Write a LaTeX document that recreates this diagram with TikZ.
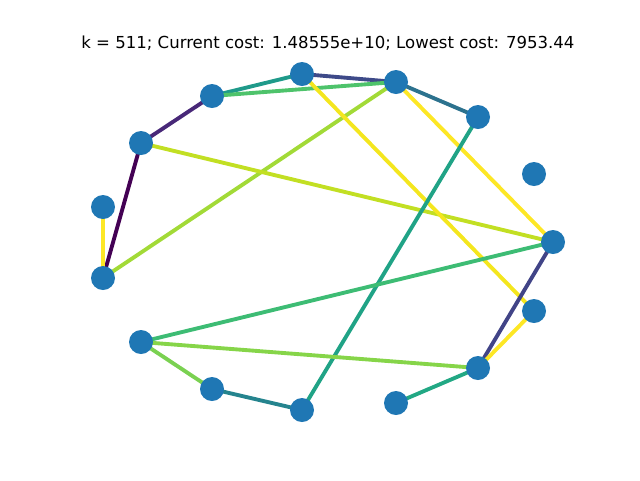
\documentclass[tikz,border=0pt]{standalone}
\usepackage{fontspec}
\setmainfont{DejaVu Sans}
\begin{document}
\begin{tikzpicture}[x=0.75pt,y=-0.75pt,
  vtx/.style={circle,fill=nodeblue,inner sep=0pt,minimum size=18pt},
  edg/.style={line width=2.9pt}]
\definecolor{nodeblue}{HTML}{1F77B4}
\useasboundingbox (0,0) rectangle (640,480);
\node[font=\fontsize{12.4}{15}\selectfont] (title) at (328,43) {k = 511; Current cost: 1.48555e+10; Lowest cost: 7953.44};
\coordinate (n1) at (302,74);
\coordinate (n2) at (396,82);
\coordinate (n3) at (478,117);
\coordinate (n4) at (534,174);
\coordinate (n5) at (553,242);
\coordinate (n6) at (534,311);
\coordinate (n7) at (478,368);
\coordinate (n8) at (396,403);
\coordinate (n9) at (302,410);
\coordinate (n10) at (212,389);
\coordinate (n11) at (141,342);
\coordinate (n12) at (103,278);
\coordinate (n13) at (103,207);
\coordinate (n14) at (141,143);
\coordinate (n15) at (212,96);
\definecolor{e1}{HTML}{1F9A8A}
\definecolor{e2}{HTML}{3E4A89}
\definecolor{e3}{HTML}{2C728E}
\definecolor{e4}{HTML}{4EC36B}
\definecolor{e5}{HTML}{482878}
\definecolor{e6}{HTML}{440154}
\definecolor{e7}{HTML}{FDE725}
\definecolor{e8}{HTML}{A2DA37}
\definecolor{e9}{HTML}{C2DF23}
\definecolor{e10}{HTML}{F4E61E}
\definecolor{e11}{HTML}{20A386}
\definecolor{e12}{HTML}{3DBC74}
\definecolor{e13}{HTML}{414487}
\definecolor{e14}{HTML}{86D549}
\definecolor{e15}{HTML}{7AD151}
\definecolor{e16}{HTML}{25848E}
\definecolor{e17}{HTML}{22A884}
\draw[edg,e1] (n15) -- (n1);
\draw[edg,e2] (n1) -- (n2);
\draw[edg,e3] (n2) -- (n3);
\draw[edg,e4] (n15) -- (n2);
\draw[edg,e5] (n14) -- (n15);
\draw[edg,e6] (n14) -- (n12);
\draw[edg,e7] (n13) -- (n12);
\draw[edg,e8] (n12) -- (n2);
\draw[edg,e9] (n14) -- (n5);
\draw[edg,e10] (n1) -- (n6);
\draw[edg,e7] (n2) -- (n5);
\draw[edg,e11] (n3) -- (n9);
\draw[edg,e12] (n5) -- (n11);
\draw[edg,e13] (n5) -- (n7);
\draw[edg,e7] (n6) -- (n7);
\draw[edg,e14] (n11) -- (n7);
\draw[edg,e15] (n11) -- (n10);
\draw[edg,e16] (n10) -- (n9);
\draw[edg,e17] (n8) -- (n7);
\foreach \i in {1,...,15} \node[vtx] (v\i) at (n\i) {};
\end{tikzpicture}
\end{document}
